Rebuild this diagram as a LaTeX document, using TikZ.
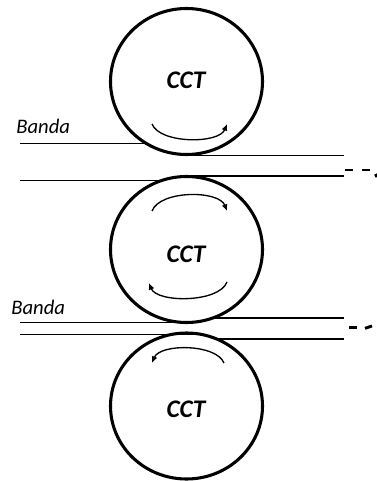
\documentclass[tikz,border=0pt]{standalone}
\usepackage{fontspec}
\setmainfont{Carlito}
\usetikzlibrary{arrows.meta}
\begin{document}
\begin{tikzpicture}[x=0.75pt,y=-0.75pt,
  roller/.style={line width=2.3pt},
  belt/.style={line width=0.8pt},
  spin/.style={line width=1pt},
  spintip/.style={-{Latex[length=5pt,width=4.5pt]}},
  gap/.style={line width=2.2pt},
  cct/.style={font=\fontsize{19}{19}\selectfont\bfseries\itshape, inner sep=0pt},
  bandlabel/.style={font=\fontsize{15.5}{15.5}\selectfont\itshape, anchor=base west, inner sep=0pt}
]
\useasboundingbox (0,0) rectangle (377,481);

% rollers
\coordinate (c1) at (186.5,81.5);
\coordinate (c2) at (186.5,249.5);
\coordinate (c3) at (186.5,406);
\draw[roller] (c1) ellipse [x radius=76, y radius=73];
\draw[roller] (c2) ellipse [x radius=76, y radius=73];
\draw[roller] (c3) ellipse [x radius=76, y radius=73];
\node[cct] (t1) at (186,80) {CCT};
\node[cct] (t2) at (186,254) {CCT};
\node[cct] (t3) at (186,409.5) {CCT};

% rotation arrows
\draw[spin,spintip] (152,124) .. controls (160,144) and (219,144) .. (227,124);
\draw[spin,spintip] (152,211) .. controls (160,190) and (219,190) .. (227,211);
\draw[spin,spintip] (227,282) .. controls (219,303) and (157,303) .. (149,283);
\draw[spin,spintip] (224,363) .. controls (216,343.5) and (160,343.5) .. (152,363);

% upper belt
\coordinate (a1) at (20,143.7);   \coordinate (a2) at (146.5,143.7);
\coordinate (b1) at (186,155.3);  \coordinate (b2) at (344,155.3);
\coordinate (d1) at (186,176);    \coordinate (d2) at (344,176);
\coordinate (e1) at (20,180.3);   \coordinate (e2) at (162.5,180.3);
\draw[belt] (a1) -- (a2);
\draw[belt] (b1) -- (b2);
\draw[belt] (d1) -- (d2);
\draw[belt] (e1) -- (e2);
\node[bandlabel] (band1) at (16,133.3) {Banda};

% lower belt
\coordinate (f1) at (213,318);    \coordinate (f2) at (344,318);
\coordinate (g1) at (20,322.7);   \coordinate (g2) at (200,322.7);
\coordinate (h1) at (20,334.3);   \coordinate (h2) at (200,334.3);
\coordinate (k1) at (217,339);    \coordinate (k2) at (344,339);
\draw[belt] (f1) -- (f2);
\draw[belt] (g1) -- (g2);
\draw[belt] (h1) -- (h2);
\draw[belt] (k1) -- (k2);
\node[bandlabel] (band2) at (11,314.3) {Banda};

% belt continuation marks
\draw[gap] (345,170) -- (353,170);
\draw[gap] (362,170) -- (370,170);
\draw[gap] (375.5,174) -- (377,177);
\draw[gap] (349,327.7) -- (357,327.7);
\draw[gap] (365,328.3) -- (372,326);
\end{tikzpicture}
\end{document}
